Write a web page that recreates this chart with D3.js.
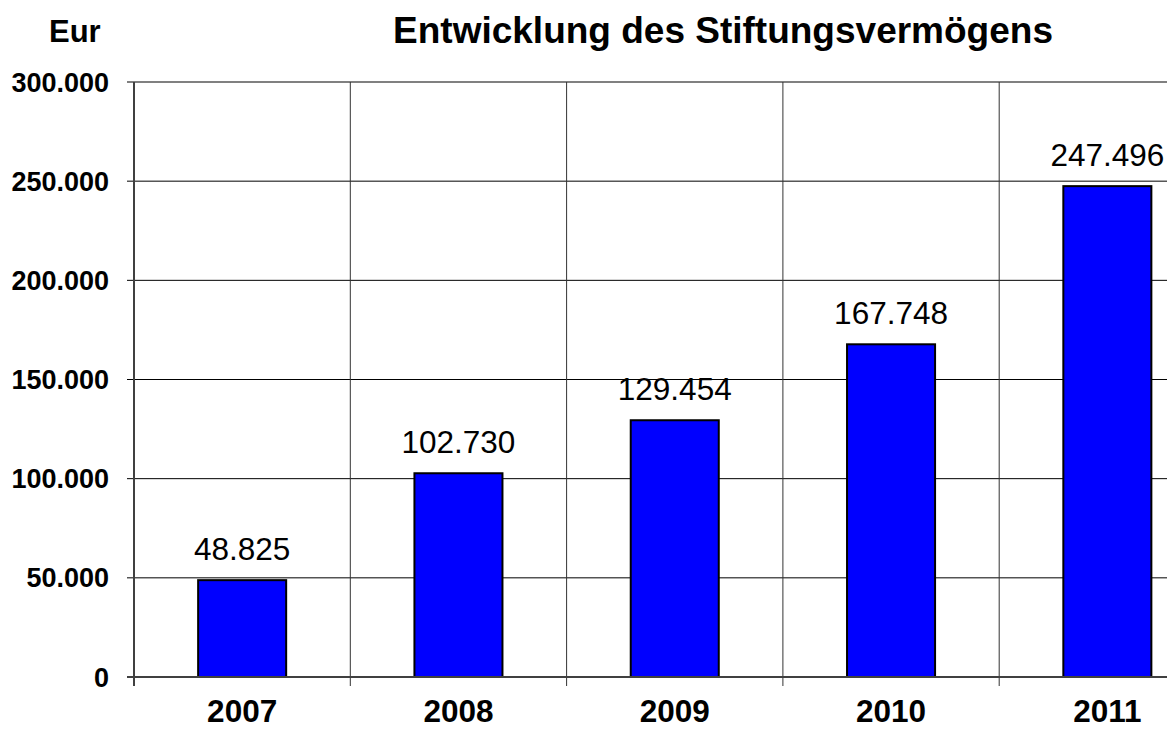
<!DOCTYPE html>
<html><head><meta charset="utf-8">
<script src="https://cdn.jsdelivr.net/npm/d3@7"></script>
<style>
html,body{margin:0;padding:0;background:#fff;}
svg{display:block;font-family:"Liberation Sans",Arial,sans-serif;}
</style></head>
<body>
<svg id="chart" width="1167" height="729"></svg>
<script>
const years = ["2007","2008","2009","2010","2011"];
const values = [48825, 102730, 129454, 167748, 247496];
const yTicks = [0, 50000, 100000, 150000, 200000, 250000, 300000];
const titleText = "Entwicklung des Stiftungsvermögens";
const unitText = "Eur";

(function () {
const svg = d3.select("#chart");
const plotLeft = 134, step = 216.3, plotTop = 82, plotBottom = 677;
const loc = d3.formatLocale({decimal: ",", thousands: ".", grouping: [3], currency: ["", "€"]});
const fmt = loc.format(",.0f");

const x = d3.scaleBand().domain(years).range([plotLeft, plotLeft + step * years.length]).paddingInner(0.593).paddingOuter(0.2965);
const y = d3.scaleLinear().domain([0, 300000]).range([plotBottom, plotTop]);

// horizontal gridlines
svg.append("g").selectAll("line").data(yTicks.filter(d => d > 0 && d < 300000)).join("line")
  .attr("x1", plotLeft - 7).attr("x2", 1167).attr("y1", d => y(d)).attr("y2", d => y(d))
  .attr("stroke", "#000").attr("stroke-width", 1);
// top line
svg.append("line").attr("x1", plotLeft - 7).attr("x2", 1167).attr("y1", y(300000)).attr("y2", y(300000))
  .attr("stroke", "#808080").attr("stroke-width", 2);

// vertical gridlines at category boundaries
const bounds = years.map((d, i) => plotLeft + i * step);
svg.append("g").selectAll("line").data(bounds.slice(1)).join("line")
  .attr("x1", d => d).attr("x2", d => d).attr("y1", plotTop).attr("y2", plotBottom + 9)
  .attr("stroke", "#333").attr("stroke-width", 1);

// bars
svg.append("g").selectAll("rect").data(values).join("rect")
  .attr("x", (d, i) => x(years[i])).attr("width", x.bandwidth())
  .attr("y", d => y(d)).attr("height", d => y(0) - y(d))
  .attr("fill", "#0000ff").attr("stroke", "#000").attr("stroke-width", 2);

// axes lines
svg.append("line").attr("x1", plotLeft - 7).attr("x2", 1167).attr("y1", plotBottom).attr("y2", plotBottom)
  .attr("stroke", "#404040").attr("stroke-width", 2);
svg.append("line").attr("x1", plotLeft).attr("x2", plotLeft).attr("y1", plotTop).attr("y2", plotBottom + 9)
  .attr("stroke", "#404040").attr("stroke-width", 2);

// y tick labels
svg.append("g").selectAll("text").data(yTicks).join("text")
  .attr("x", 109).attr("y", d => y(d) + 9.5)
  .attr("text-anchor", "end").attr("font-weight", "bold").attr("font-size", 27)
  .text(d => fmt(d));

// x labels
svg.append("g").selectAll("text").data(years).join("text")
  .attr("x", d => x(d) + x.bandwidth() / 2).attr("y", 722)
  .attr("text-anchor", "middle").attr("font-weight", "bold").attr("font-size", 31.5)
  .text(d => d);

// value labels
svg.append("g").selectAll("text").data(values).join("text")
  .attr("x", (d, i) => x(years[i]) + x.bandwidth() / 2).attr("y", d => y(d) - 20)
  .attr("text-anchor", "middle").attr("font-size", 31.5)
  .text(d => fmt(d));

// title
svg.append("text").attr("x", 723).attr("y", 43).attr("text-anchor", "middle")
  .attr("font-weight", "bold").attr("font-size", 37).text(titleText);
svg.append("text").attr("x", 49).attr("y", 42)
  .attr("font-weight", "bold").attr("font-size", 31).text(unitText);
})();
</script>
</body></html>
